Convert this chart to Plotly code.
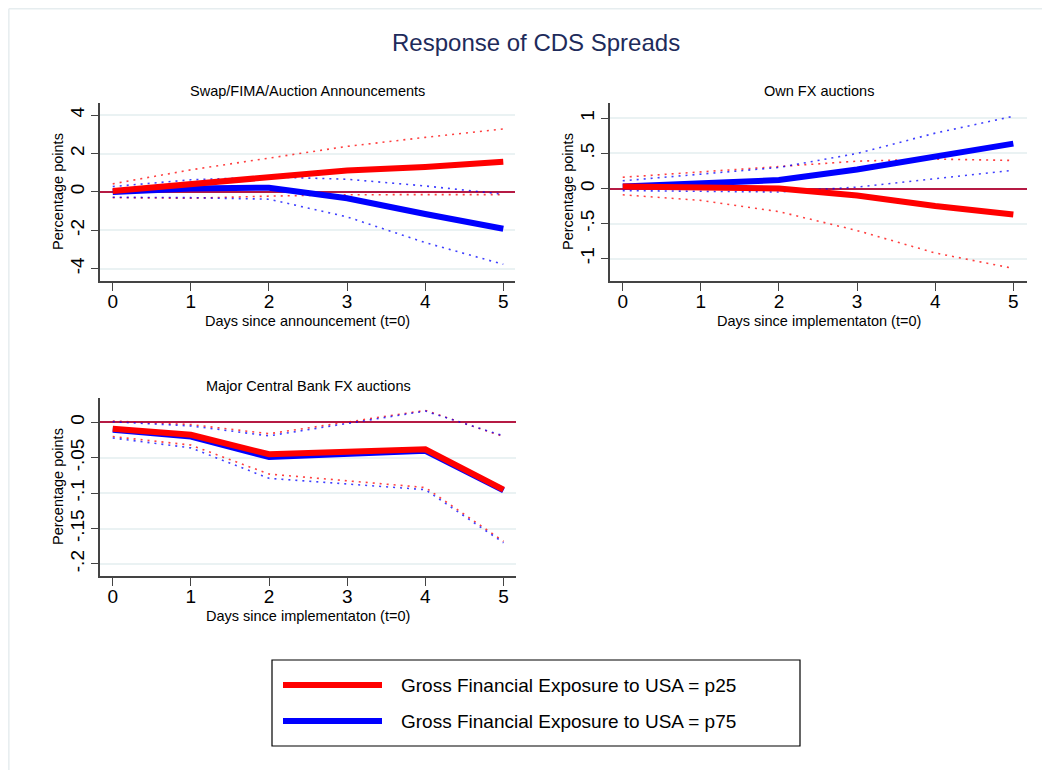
import plotly.graph_objects as go

# ---------------- data ----------------
days = [0, 1, 2, 3, 4, 5]
series_names = ["Gross Financial Exposure to USA = p25",
                "Gross Financial Exposure to USA = p75"]
panel_titles = ["Swap/FIMA/Auction Announcements", "Own FX auctions",
                "Major Central Bank FX auctions"]
x_titles = ["Days since announcement (t=0)", "Days since implementaton (t=0)",
            "Days since implementaton (t=0)"]
y_title = "Percentage points"
main_title = "Response of CDS Spreads"

# Panel 1: Swap/FIMA/Auction Announcements
swap_p25 = [0.05, 0.40, 0.80, 1.12, 1.30, 1.57]
swap_p25_hi = [0.42, 1.15, 1.76, 2.37, 2.84, 3.28]
swap_p25_lo = [-0.30, -0.33, -0.22, -0.15, -0.14, -0.14]
swap_p75 = [0.00, 0.18, 0.22, -0.33, -1.15, -1.92]
swap_p75_hi = [0.28, 0.63, 0.78, 0.66, 0.31, -0.12]
swap_p75_lo = [-0.28, -0.30, -0.38, -1.30, -2.64, -3.77]
swap_ticks = [-4, -2, 0, 2, 4]
swap_ticktext = ["-4", "-2", "0", "2", "4"]

# Panel 2: Own FX auctions
own_p25 = [0.03, 0.02, 0.00, -0.10, -0.25, -0.37]
own_p25_hi = [0.16, 0.24, 0.32, 0.39, 0.42, 0.40]
own_p25_lo = [-0.09, -0.17, -0.33, -0.60, -0.92, -1.14]
own_p75 = [0.03, 0.07, 0.12, 0.27, 0.46, 0.64]
own_p75_hi = [0.11, 0.21, 0.30, 0.50, 0.79, 1.03]
own_p75_lo = [-0.03, -0.04, -0.05, 0.02, 0.14, 0.26]
own_ticks = [-1, -0.5, 0, 0.5, 1]
own_ticktext = ["-1", "-.5", "0", ".5", "1"]

# Panel 3: Major Central Bank FX auctions
cb_p25 = [-0.009, -0.0175, -0.045, -0.042, -0.038, -0.095]
cb_p25_hi = [0.002, -0.003, -0.016, 0.000, 0.017, -0.020]
cb_p25_lo = [-0.020, -0.032, -0.073, -0.083, -0.092, -0.168]
cb_p75 = [-0.0105, -0.020, -0.049, -0.045, -0.040, -0.096]
cb_p75_hi = [0.001, -0.005, -0.019, -0.002, 0.016, -0.019]
cb_p75_lo = [-0.022, -0.036, -0.079, -0.087, -0.095, -0.170]
cb_ticks = [-0.2, -0.15, -0.1, -0.05, 0]
cb_ticktext = ["-.2", "-.15", "-.1", "-.05", "0"]

# ---------------- style ----------------
W, H = 1050, 770
OFF = 8  # page offset of the plot div inside the browser window
FONT = "Liberation Sans, Arial, sans-serif"
RED = "#FF0000"
BLUE = "#0000FF"
GRID = "#EAF2F3"
AXIS = "#444444"
ZERO = "#B51A44"


def px(x):
    return (x - OFF) / W


def py(y):
    return 1 - (y - OFF) / H


panels = [
    dict(p25=swap_p25, p25_hi=swap_p25_hi, p25_lo=swap_p25_lo,
         p75=swap_p75, p75_hi=swap_p75_hi, p75_lo=swap_p75_lo,
         ticks=swap_ticks, ticktext=swap_ticktext,
         xdom=(100, 515), ydom=(103, 281), xr=[-0.163, 5.15], yr=[-4.64, 4.63]),
    dict(p25=own_p25, p25_hi=own_p25_hi, p25_lo=own_p25_lo,
         p75=own_p75, p75_hi=own_p75_hi, p75_lo=own_p75_lo,
         ticks=own_ticks, ticktext=own_ticktext,
         xdom=(610, 1027), ydom=(103, 281), xr=[-0.163, 5.175], yr=[-1.32, 1.22]),
    dict(p25=cb_p25, p25_hi=cb_p25_hi, p25_lo=cb_p25_lo,
         p75=cb_p75, p75_hi=cb_p75_hi, p75_lo=cb_p75_lo,
         ticks=cb_ticks, ticktext=cb_ticktext,
         xdom=(100, 516), ydom=(398, 576), xr=[-0.163, 5.16], yr=[-0.217, 0.0345]),
]

fig = go.Figure()
annotations = []
layout_axes = {}

for i, p in enumerate(panels, start=1):
    xa, ya = f"x{i}", f"y{i}"
    dotted = [(p["p25_hi"], RED), (p["p25_lo"], RED),
              (p["p75_hi"], BLUE), (p["p75_lo"], BLUE)]
    for vals, col in dotted:
        fig.add_trace(go.Scatter(x=days, y=vals, mode="lines", xaxis=xa, yaxis=ya,
                                 line=dict(color=col, width=1.6, dash="2px,5px"),
                                 opacity=0.75, showlegend=False, hoverinfo="skip"))
    fig.add_trace(go.Scatter(x=days, y=p["p75"], mode="lines", xaxis=xa, yaxis=ya,
                             name=series_names[1], line=dict(color=BLUE, width=6),
                             showlegend=False))
    fig.add_trace(go.Scatter(x=days, y=p["p25"], mode="lines", xaxis=xa, yaxis=ya,
                             name=series_names[0], line=dict(color=RED, width=6),
                             showlegend=False))

    key = "" if i == 1 else str(i)
    layout_axes[f"xaxis{key}"] = dict(
        domain=[px(p["xdom"][0]), px(p["xdom"][1])], range=p["xr"], anchor=ya,
        showline=True, linecolor=AXIS, linewidth=1.5, ticks="outside", ticklen=8,
        tickcolor=AXIS, tickwidth=1.3, tickvals=days, ticktext=[str(d) for d in days],
        tickfont=dict(size=19, color="black", family=FONT), ticklabelstandoff=-6,
        showgrid=False, zeroline=False, fixedrange=True)
    layout_axes[f"yaxis{key}"] = dict(
        domain=[py(p["ydom"][1]), py(p["ydom"][0])], range=p["yr"], anchor=xa,
        showline=True, linecolor=AXIS, linewidth=1.5, ticks="outside", ticklen=7,
        tickcolor=AXIS, tickwidth=1.3, tickvals=p["ticks"], ticktext=p["ticktext"],
        tickangle=-90, tickfont=dict(size=19, color="black", family=FONT),
        showgrid=True, gridcolor=GRID, gridwidth=1.5,
        zeroline=True, zerolinecolor=ZERO, zerolinewidth=1.8, fixedrange=True)

    xc = (p["xdom"][0] + p["xdom"][1]) / 2
    yc = (p["ydom"][0] + p["ydom"][1]) / 2
    annotations.append(dict(text=panel_titles[i - 1], x=px(xc), y=py(p["ydom"][0] - 12),
                            xref="paper", yref="paper", showarrow=False,
                            font=dict(size=14.5, color="black", family=FONT),
                            xanchor="center", yanchor="middle"))
    annotations.append(dict(text=x_titles[i - 1], x=px(xc), y=py(p["ydom"][1] + 40),
                            xref="paper", yref="paper", showarrow=False,
                            font=dict(size=14.5, color="black", family=FONT),
                            xanchor="center", yanchor="middle"))
    annotations.append(dict(text=y_title, x=px(p["xdom"][0] - 42), y=py(yc),
                            xref="paper", yref="paper", showarrow=False, textangle=-90,
                            font=dict(size=14.5, color="black", family=FONT),
                            xanchor="center", yanchor="middle"))

# main title
annotations.append(dict(text=main_title, x=px(536), y=py(42), xref="paper", yref="paper",
                        showarrow=False, font=dict(size=24, color="#1E2B5B", family=FONT),
                        xanchor="center", yanchor="middle"))

# legend (drawn manually to match the wide key lines)
shapes = [
    dict(type="rect", xref="paper", yref="paper", x0=px(272), x1=px(800),
         y0=py(746), y1=py(660), line=dict(color="black", width=1.2),
         fillcolor="white", layer="above"),
    dict(type="line", xref="paper", yref="paper", x0=px(283), x1=px(382),
         y0=py(685), y1=py(685), line=dict(color=RED, width=6)),
    dict(type="line", xref="paper", yref="paper", x0=px(283), x1=px(382),
         y0=py(721), y1=py(721), line=dict(color=BLUE, width=6)),
    # faint outer frame (top and left)
    dict(type="line", xref="paper", yref="paper", x0=0.0008, x1=1,
         y0=0.999, y1=0.999, line=dict(color="#E6EDEF", width=1.5)),
    dict(type="line", xref="paper", yref="paper", x0=0.0008, x1=0.0008,
         y0=0.999, y1=0, line=dict(color="#E6EDEF", width=1.5)),
]
for row_y, name in zip([685, 721], series_names):
    annotations.append(dict(text=name, x=px(399), y=py(row_y), xref="paper", yref="paper",
                            showarrow=False, xanchor="left", yanchor="middle",
                            font=dict(size=19, color="black", family=FONT)))

fig.update_layout(
    width=W, height=H, autosize=False,
    margin=dict(l=0, r=0, t=0, b=0),
    paper_bgcolor="white", plot_bgcolor="white",
    font=dict(family=FONT, color="black"),
    showlegend=False,
    annotations=annotations,
    shapes=shapes,
    **layout_axes,
)

fig.write_html("out.html")
